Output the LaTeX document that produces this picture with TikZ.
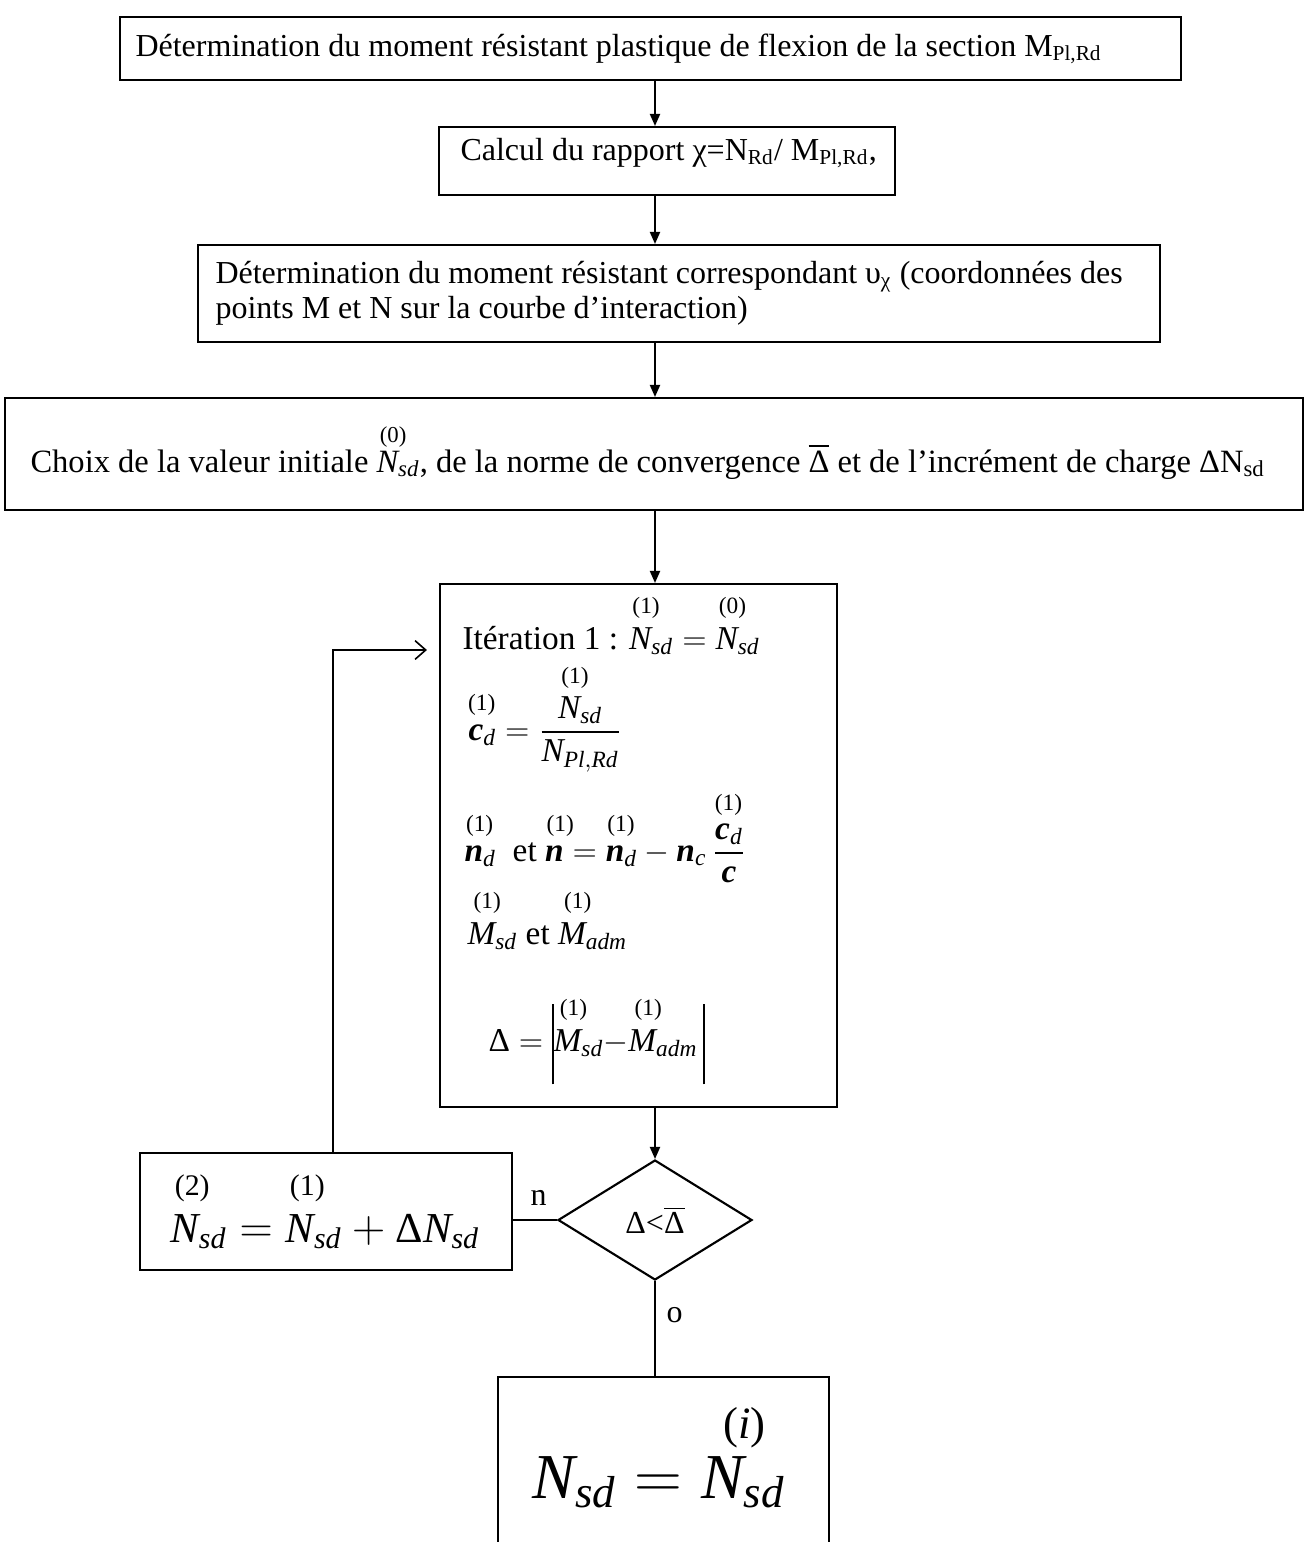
\documentclass[tikz,border=0pt]{standalone}
\usepackage{fontspec}
\usepackage{amsmath}
\setmainfont{Liberation Serif}
\usetikzlibrary{shapes.geometric,arrows.meta,fit}
\newcommand\vi[1]{\text{\normalfont\itshape #1}}
\newcommand\vb[1]{\text{\normalfont\bfseries\itshape #1}}
\newcommand\upi[2]{\overset{\text{\normalfont\raisebox{0.3em}{\makebox[0pt]{\hspace{0.5em}(#1)}}}}{#2}}
\newcommand\upj[2]{\overset{\text{\normalfont\raisebox{0.3em}{\makebox[0pt]{\hspace{0.5em}(#1)}}}}{#2}}
\newcommand\upk[2]{\overset{\text{\normalfont\makebox[0pt]{\hspace{0.5em}(#1)}}}{#2}}
\newcommand\absbar{\rule[-12.5pt]{0.6pt}{30pt}}
\begin{document}
\begin{tikzpicture}[x=0.375pt,y=-0.375pt,
  box/.style={draw, inner sep=0pt, line width=0.8pt},
  txt/.style={anchor=base west, inner sep=0pt, font=\fontsize{12}{14}\selectfont},
  eq/.style={anchor=base west, inner sep=0pt, font=\fontsize{12.5}{15}\selectfont},
  arr/.style={-{Triangle[length=4.5pt,width=3.8pt]}, line width=0.6pt},
  lnk/.style={line width=0.6pt},
  back/.style={-{Straight Barb[length=4pt,width=7pt]}, line width=0.6pt}]
\useasboundingbox (0,0) rectangle (1306,1542);
\fill[white] (0,0) rectangle (1306,1542);
% boxes
\node[box, fit={(120,17)(1181,80)}] (b1) {};
\node[box, fit={(439,127)(895,195)}] (b2) {};
\node[box, fit={(198,245)(1160,342)}] (b3) {};
\node[box, fit={(5,398)(1303,510)}] (b4) {};
\node[box, fit={(440,584)(837,1107)}] (b5) {};
\node[box, fit={(140,1153)(512,1270)}] (b6) {};
\node[box, fit={(498,1377)(829,1620)}] (b7) {};
\node[draw, diamond, aspect=1.6, minimum width=72.75pt, minimum height=45pt, inner sep=0pt, line width=0.8pt] (dm) at (655,1220) {};
% texts
\node[txt] (t1) at (135,56) {Détermination du moment résistant plastique de flexion de la section M\textsubscript{Pl,Rd}};
\node[txt] (t2) at (460,160) {Calcul du rapport χ=N\textsubscript{Rd}/ M\textsubscript{Pl,Rd},};
\node[txt] (t3a) at (215,283) {Détermination du moment résistant correspondant υ\textsubscript{χ} (coordonnées des};
\node[txt] (t3b) at (215,318) {points M et N sur la courbe d’interaction)};
\node[txt, font=\fontsize{12.2}{14}\selectfont] (t4) at (30,472) {Choix de la valeur initiale $\upk{0}{\vi{N}}_{\vi{sd}}$, de la norme de convergence $\overline{\text{Δ}}$ et de l’incrément de charge ΔN\textsubscript{sd}};
\node[eq] (t5a) at (462,649) {Itération 1 : $\upj{1}{\vi{N}}_{\vi{sd}} = \upj{0}{\vi{N}}_{\vi{sd}}$};
\node[eq] (t5b) at (468,740) {$\upj{1}{\vb{c}}_{\vi{d}} = \dfrac{\upj{1}{\vi{N}}_{\vi{sd}}}{\vi{N}_{\vi{Pl},\vi{Rd}}}$};
\node[eq] (t5c) at (464,861) {$\upj{1}{\vb{n}}_{\vi{d}}$ \ et $\upj{1}{\vb{n}} = \upj{1}{\vb{n}}_{\vi{d}} - \vb{n}_{\vi{c}}\,\dfrac{\upj{1}{\vb{c}}_{\vi{d}}}{\vb{c}}$};
\node[eq] (t5d) at (467,944) {$\upj{1}{\vi{M}}_{\vi{sd}}$ et $\upj{1}{\vi{M}}_{\vi{adm}}$};
\node[eq] (t5e) at (488,1051) {$\text{Δ} = \absbar\upj{1}{\vi{M}}_{\vi{sd}} {-} \upj{1}{\vi{M}}_{\vi{adm}}\,\absbar$};
\node[font=\fontsize{12}{14}\selectfont, inner sep=0pt] (td) at (dm.center) {Δ<$\overline{\text{Δ}}$};
\node[txt, font=\fontsize{16}{20}\selectfont] (t6) at (170,1242) {$\upi{2}{\vi{N}}_{\vi{sd}} = \upi{1}{\vi{N}}_{\vi{sd}} + \text{Δ}\vi{N}_{\vi{sd}}$};
\node[txt, font=\fontsize{24}{28}\selectfont] (t7) at (532,1498) {$\vi{N}_{\vi{sd}} = \overset{\text{\normalfont\raisebox{0.1em}{\makebox[0pt]{\hspace{1em}(\textit{i})}}}}{\vi{N}}_{\vi{sd}}$};
\node[txt] (ln) at (530,1205) {n};
\node[txt] (lo) at (666,1322) {o};
% connectors
\coordinate (ax) at (655,0);
\draw[arr] (b1.south -| ax) -- (b2.north -| ax);
\draw[arr] (b2.south -| ax) -- (b3.north -| ax);
\draw[arr] (b3.south -| ax) -- (b4.north -| ax);
\draw[arr] (b4.south -| ax) -- (b5.north -| ax);
\draw[arr] (b5.south -| ax) -- (dm.north);
\draw[lnk] (dm.west) -- (dm.west -| b6.east);
\draw[lnk] (dm.south) -- (dm.south |- b7.north);
\coordinate (lx) at (333,650);
\draw[back, shorten >=4.5pt] (b6.north -| lx) -- (lx) -- (lx -| b5.west);
\end{tikzpicture}
\end{document}
